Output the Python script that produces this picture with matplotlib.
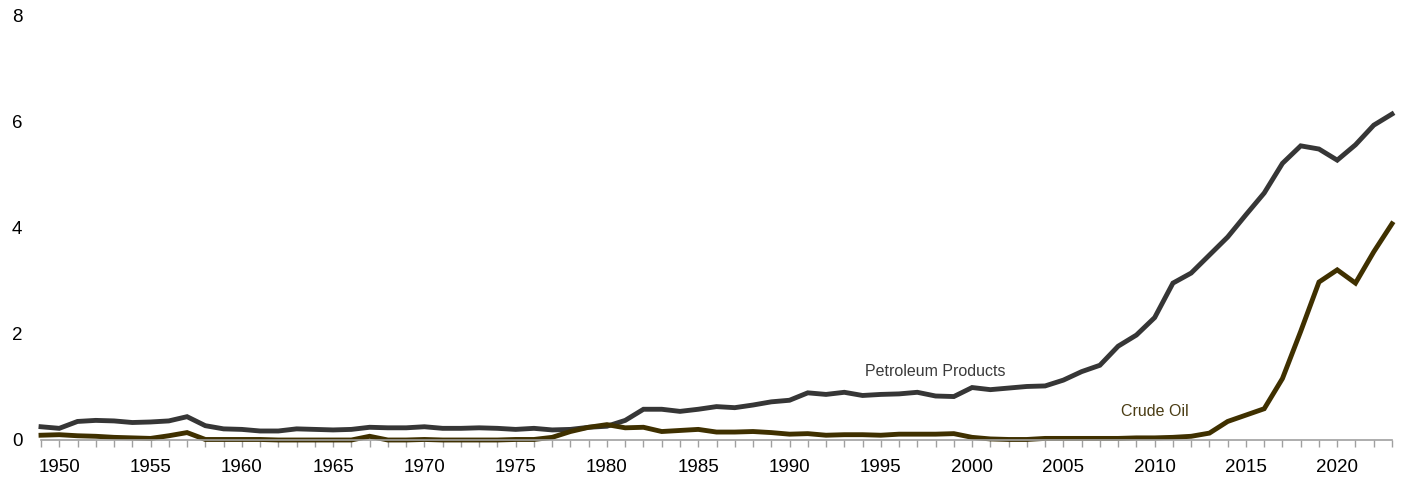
import matplotlib
matplotlib.use("Agg")
import matplotlib.pyplot as plt
from matplotlib.ticker import MultipleLocator

plt.rcParams["font.family"] = ["Liberation Sans", "DejaVu Sans"]

years = list(range(1949, 2024))
products = [
    0.25, 0.22, 0.35, 0.37, 0.36, 0.33, 0.34, 0.36, 0.44, 0.27,  # 1949-58
    0.21, 0.20, 0.17, 0.17, 0.21, 0.20, 0.19, 0.20, 0.24, 0.23,  # 1959-68
    0.23, 0.25, 0.22, 0.22, 0.23, 0.22, 0.20, 0.22, 0.19, 0.20,  # 1969-78
    0.24, 0.26, 0.37, 0.58, 0.58, 0.54, 0.58, 0.63, 0.61, 0.66,  # 1979-88
    0.72, 0.75, 0.89, 0.86, 0.90, 0.84, 0.86, 0.87, 0.90, 0.83,  # 1989-98
    0.82, 0.99, 0.95, 0.98, 1.01, 1.02, 1.13, 1.29, 1.41, 1.77,  # 1999-2008
    1.98, 2.31, 2.96, 3.15, 3.49, 3.83, 4.25, 4.66, 5.22, 5.55,  # 2009-18
    5.49, 5.28, 5.57, 5.94, 6.15,                                # 2019-23
]
crude = [
    0.09, 0.10, 0.08, 0.07, 0.05, 0.04, 0.03, 0.08, 0.14, 0.01,  # 1949-58
    0.01, 0.01, 0.01, 0.00, 0.00, 0.00, 0.00, 0.00, 0.07, 0.00,  # 1959-68
    0.00, 0.01, 0.00, 0.00, 0.00, 0.00, 0.01, 0.01, 0.05, 0.16,  # 1969-78
    0.24, 0.29, 0.23, 0.24, 0.16, 0.18, 0.20, 0.15, 0.15, 0.16,  # 1979-88
    0.14, 0.11, 0.12, 0.09, 0.10, 0.10, 0.09, 0.11, 0.11, 0.11,  # 1989-98
    0.12, 0.05, 0.02, 0.01, 0.01, 0.03, 0.03, 0.03, 0.03, 0.03,  # 1999-2008
    0.04, 0.04, 0.05, 0.07, 0.13, 0.35, 0.47, 0.59, 1.16, 2.05,  # 2009-18
    2.98, 3.21, 2.96, 3.55, 4.08,                                # 2019-23
]
yticks = [0, 2, 4, 6, 8]

C_PROD = "#363636"
C_CRUDE = "#3f3000"

fig = plt.figure(figsize=(14.02, 4.8), dpi=100)
ax = fig.add_axes([41 / 1402, 40 / 480, 1351 / 1402, 424 / 480])

ax.plot(years, products, color=C_PROD, lw=3.5, solid_joinstyle="miter", clip_on=False)
ax.plot(years, crude, color=C_CRUDE, lw=3.5, solid_joinstyle="miter", clip_on=False)

ax.text(1998, 1.30, "Petroleum Products", color="#3a3a3a", fontsize=11.5,
        ha="center", va="center")
ax.text(2010, 0.53, "Crude Oil", color="#4a3c14", fontsize=11.5,
        ha="center", va="center")

ax.set_xlim(1949, 2023)
ax.set_ylim(0, 8)
ax.set_yticks(yticks)
ax.xaxis.set_major_locator(MultipleLocator(5))
ax.xaxis.set_minor_locator(MultipleLocator(1))

for s in ("top", "right", "left"):
    ax.spines[s].set_visible(False)
ax.spines["bottom"].set_color("#a0a0a0")
ax.spines["bottom"].set_linewidth(1.2)

ax.tick_params(axis="x", which="both", length=5, width=1, color="#a0a0a0",
               labelsize=13.5, pad=9)
ax.tick_params(axis="y", length=0, labelsize=13.5, pad=21)
for lab in ax.get_yticklabels():
    lab.set_horizontalalignment("left")

fig.savefig("out.png", dpi=100, facecolor="white")
